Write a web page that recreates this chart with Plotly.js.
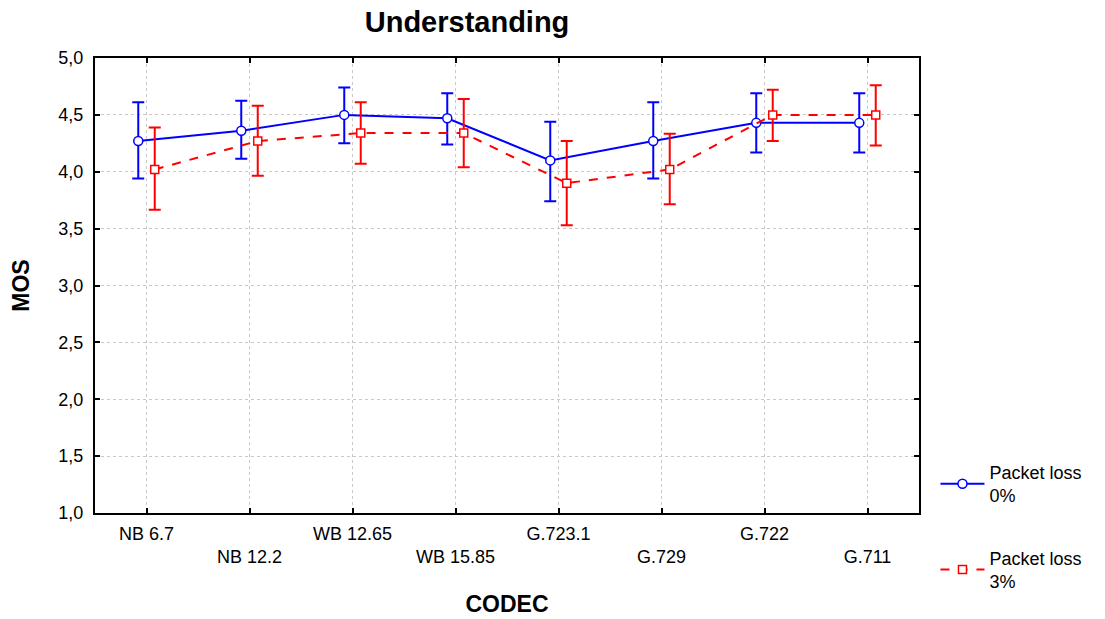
<!DOCTYPE html>
<html>
<head>
<meta charset="utf-8">
<script src="https://cdn.plot.ly/plotly-3.0.1.min.js"></script>
<style>html,body{margin:0;padding:0;background:#fff;}#chart{width:1105px;height:619px;}</style>
</head>
<body>
<div id="chart"></div>
<script>
var codecs = ["NB 6.7", "NB 12.2", "WB 12.65", "WB 15.85", "G.723.1", "G.729", "G.722", "G.711"];
var loss0Mean = [4.27, 4.36, 4.50, 4.47, 4.10, 4.27, 4.43, 4.43];
var loss0Upper = [4.61, 4.625, 4.74, 4.69, 4.44, 4.61, 4.69, 4.69];
var loss0Lower = [3.94, 4.115, 4.25, 4.24, 3.74, 3.94, 4.17, 4.17];
var loss3Mean = [4.02, 4.27, 4.34, 4.34, 3.90, 4.02, 4.50, 4.50];
var loss3Upper = [4.39, 4.58, 4.61, 4.64, 4.27, 4.335, 4.72, 4.76];
var loss3Lower = [3.665, 3.965, 4.07, 4.04, 3.53, 3.715, 4.27, 4.23];
var yTicks = [1.0, 1.5, 2.0, 2.5, 3.0, 3.5, 4.0, 4.5, 5.0];

var offset = 0.08;
var idx = codecs.map(function(_, i){ return i; });
var tickText = codecs.map(function(c, i){ return i % 2 === 1 ? "<br>" + c : c; });

function diff(a, b){ return a.map(function(v, i){ return +(v - b[i]).toFixed(4); }); }

var trace0 = {
  x: idx.map(function(i){ return i - offset; }),
  y: loss0Mean,
  name: "Packet loss<br>0%",
  type: "scatter",
  mode: "lines+markers",
  line: {color: "#0000ff", width: 2},
  marker: {symbol: "circle", size: 9, color: "#ffffff", line: {color: "#0000ff", width: 1.5}},
  error_y: {type: "data", symmetric: false, array: diff(loss0Upper, loss0Mean), arrayminus: diff(loss0Mean, loss0Lower), color: "#0000ff", thickness: 2, width: 6},
  legendgroup: "a"
};
var trace3 = {
  x: idx.map(function(i){ return i + offset; }),
  y: loss3Mean,
  name: "Packet loss<br>3%",
  type: "scatter",
  mode: "lines+markers",
  line: {color: "#ff0000", width: 2, dash: "dash"},
  marker: {symbol: "square", size: 8, color: "#ffffff", line: {color: "#ff0000", width: 1.5}},
  error_y: {type: "data", symmetric: false, array: diff(loss3Upper, loss3Mean), arrayminus: diff(loss3Mean, loss3Lower), color: "#ff0000", thickness: 2, width: 6},
  legendgroup: "b"
};

var layout = {
  width: 1105, height: 619,
  margin: {l: 95, r: 186, t: 58, b: 106},
  paper_bgcolor: "#ffffff", plot_bgcolor: "#ffffff",
  font: {family: "Liberation Sans, Arial, sans-serif", color: "#000000", size: 18},
  separators: ", ",
  title: {text: "<b>Understanding</b>", font: {size: 29, family: "Liberation Sans, Arial, sans-serif"}, xref: "paper", x: 0.4515, xanchor: "center", yref: "container", y: 0.965, yanchor: "middle"},
  xaxis: {
    range: [-0.5, 7.5], tickmode: "array", tickvals: idx, ticktext: tickText,
    showgrid: true, gridcolor: "#c8c8c8", griddash: "dot", gridwidth: 1,
    showline: true, linecolor: "#000000", linewidth: 2, mirror: "ticks",
    ticks: "inside", ticklen: 5, tickcolor: "#000000", tickwidth: 2,
    zeroline: false, tickfont: {size: 18}, ticklabelstandoff: 3,
    title: {text: "<b>CODEC</b>", font: {size: 23}, standoff: 30}
  },
  yaxis: {
    range: [1.0, 5.0], tickmode: "array", tickvals: yTicks, tickformat: ".1f",
    showgrid: true, gridcolor: "#c8c8c8", griddash: "dot", gridwidth: 1,
    showline: true, linecolor: "#000000", linewidth: 2, mirror: "ticks",
    ticks: "inside", ticklen: 5, tickcolor: "#000000", tickwidth: 2,
    zeroline: false, tickfont: {size: 18}, ticklabelstandoff: 6,
    title: {text: "<b>MOS</b>", font: {size: 23}, standoff: 22}
  },
  showlegend: true,
  legend: {x: 1.02, xanchor: "left", y: 0.13, yanchor: "top", traceorder: "grouped", tracegroupgap: 36, itemwidth: 44, font: {size: 18}, bgcolor: "rgba(0,0,0,0)"}
};

Plotly.newPlot("chart", [trace0, trace3], layout, {displayModeBar: false, staticPlot: true});
</script>
</body>
</html>
